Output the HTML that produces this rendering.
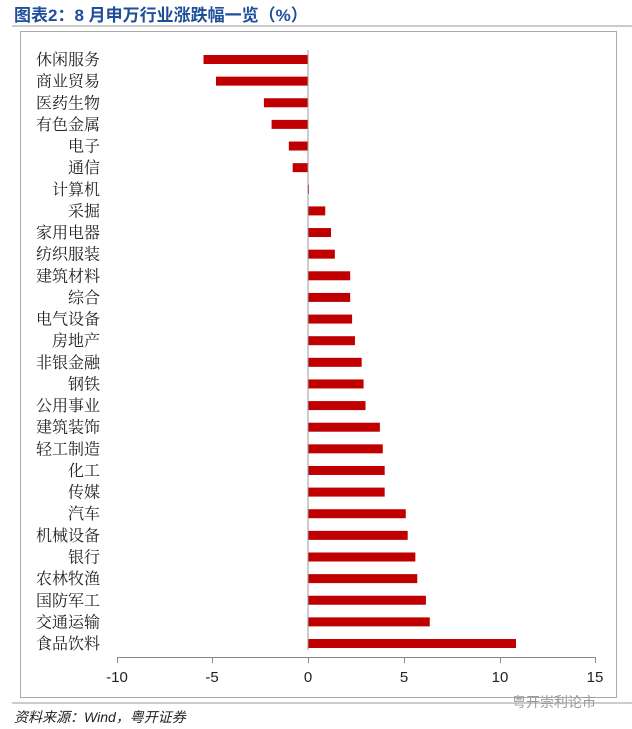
<!DOCTYPE html>
<html><head><meta charset="utf-8"><style>
body{margin:0;background:#fff;width:632px;height:729px;overflow:hidden}
svg{display:block}
</style></head><body>
<svg width="632" height="729" xmlns="http://www.w3.org/2000/svg" font-family="'Liberation Sans','Noto Sans CJK SC',sans-serif">
<text x="14" y="21" font-size="17" font-weight="bold" fill="#1f4e9a" font-family="'Liberation Sans','Noto Sans CJK SC',sans-serif">图表2：8 月申万行业涨跌幅一览（%）</text>
<line x1="12" y1="26" x2="632" y2="26" stroke="#999" stroke-width="1"/>
<rect x="20.5" y="31.5" width="596" height="666" fill="none" stroke="#aaa" stroke-width="1"/>
<line x1="12" y1="703" x2="632" y2="703" stroke="#999" stroke-width="1"/>
<text x="14" y="722" font-size="14" font-style="italic" fill="#222">资料来源：Wind，粤开证券</text>
<text x="512" y="707" font-size="14" fill="#999">粤开崇利论市</text>
<g id="bars"></g>
<line x1="308" y1="50" x2="308" y2="650" stroke="#999" stroke-width="1"/>
<line x1="117" y1="657.5" x2="596" y2="657.5" stroke="#888" stroke-width="1"/>
<g stroke="#888" stroke-width="1">
<line x1="117.5" y1="657" x2="117.5" y2="663"/><line x1="212.5" y1="657" x2="212.5" y2="663"/><line x1="308.5" y1="657" x2="308.5" y2="663"/><line x1="404.5" y1="657" x2="404.5" y2="663"/><line x1="500.5" y1="657" x2="500.5" y2="663"/><line x1="595.5" y1="657" x2="595.5" y2="663"/>
</g>
<g font-size="15" fill="#222" text-anchor="middle">
<text x="117" y="682">-10</text><text x="212" y="682">-5</text><text x="308" y="682">0</text><text x="404" y="682">5</text><text x="500" y="682">10</text><text x="595" y="682">15</text>
</g>
<g font-size="16" fill="#222" text-anchor="end" id="labels" font-family="'Liberation Serif','Noto Serif CJK SC',serif"></g>
<script>
var d=[["休闲服务",-5.45],["商业贸易",-4.8],["医药生物",-2.3],["有色金属",-1.9],["电子",-1.0],["通信",-0.8],["计算机",0.05],["采掘",0.9],["家用电器",1.2],["纺织服装",1.4],["建筑材料",2.2],["综合",2.2],["电气设备",2.3],["房地产",2.45],["非银金融",2.8],["钢铁",2.9],["公用事业",3.0],["建筑装饰",3.75],["轻工制造",3.9],["化工",4.0],["传媒",4.0],["汽车",5.1],["机械设备",5.2],["银行",5.6],["农林牧渔",5.7],["国防军工",6.15],["交通运输",6.35],["食品饮料",10.85]];
var b=document.getElementById('bars'),l=document.getElementById('labels'),ns="http://www.w3.org/2000/svg";
d.forEach(function(r,i){var y=59.5+i*21.63;var x0=308,x1=308+r[1]*19.17;
var e=document.createElementNS(ns,'rect');e.setAttribute('x',Math.min(x0,x1));e.setAttribute('y',y-4.5);e.setAttribute('width',Math.abs(x1-x0));e.setAttribute('height',9);e.setAttribute('fill','#c00000');b.appendChild(e);
var t=document.createElementNS(ns,'text');t.setAttribute('x',100);t.setAttribute('y',y+5.5);t.textContent=r[0];l.appendChild(t);});
</script>
</svg>
</body></html>
